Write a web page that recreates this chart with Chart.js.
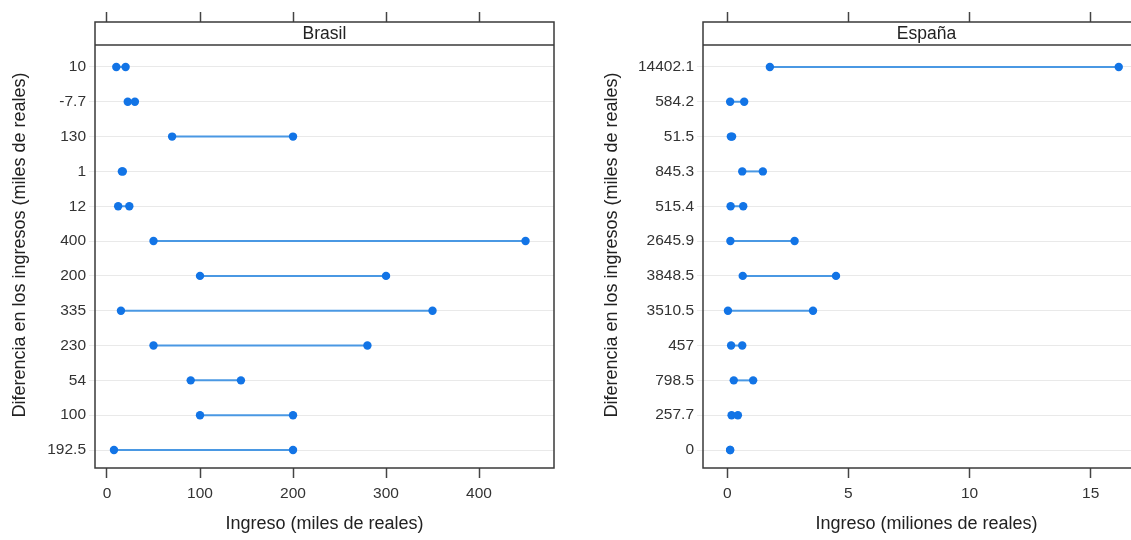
<!DOCTYPE html>
<html>
<head>
<meta charset="utf-8">
<script src="https://cdn.jsdelivr.net/npm/chart.js@4.4.1/dist/chart.umd.min.js"></script>
<style>
	html, body { margin: 0; padding: 0; background: #fff; overflow: hidden; width: 1131px; height: 540px; }
	canvas { position: absolute; top: 0; }
</style>
</head>
<body>
<canvas id="brasil" width="565" height="540" style="left:0"></canvas>
<canvas id="espana" width="575" height="540" style="left:592px"></canvas>
<script>
// Brasil: ingreso en miles de reales
const brasilLabels = ["10", "-7.7", "130", "1", "12", "400", "200", "335", "230", "54", "100", "192.5"];
const brasilLow = [10, 22.3, 70, 16, 12, 50, 100, 15, 50, 90, 100, 7.5];
const brasilHigh = [20, 30, 200, 17, 24, 450, 300, 350, 280, 144, 200, 200];
const brasilTicks = [0, 100, 200, 300, 400];

// España: ingreso en millones de reales
const espanaLabels = ["14402.1", "584.2", "51.5", "845.3", "515.4", "2645.9", "3848.5", "3510.5", "457", "798.5", "257.7", "0"];
const espanaLow = [1.76, 0.12, 0.15, 0.62, 0.14, 0.13, 0.64, 0.03, 0.16, 0.27, 0.18, 0.12];
const espanaHigh = [16.16, 0.70, 0.20, 1.47, 0.66, 2.78, 4.49, 3.54, 0.62, 1.07, 0.44, 0.12];
const espanaTicks = [0, 5, 10, 15];

const FONT = '"Liberation Sans", Arial, sans-serif';
const STRIP_H = 23;

Chart.defaults.font.family = FONT;
Chart.defaults.color = "#333";

// panel frame plus the strip with the country name
const stripPlugin = {
	id: "strip",
	afterDraw(chart, args, opts) {
		const { ctx, chartArea: a } = chart;
		ctx.save();
		ctx.fillStyle = "#fff";
		ctx.fillRect(a.left, a.top, a.right - a.left, STRIP_H);
		ctx.strokeStyle = "#3a3a3a";
		ctx.lineWidth = 1.5;
		ctx.beginPath();
		ctx.moveTo(a.left, a.top + STRIP_H);
		ctx.lineTo(a.right, a.top + STRIP_H);
		ctx.stroke();
		ctx.strokeRect(a.left, a.top, a.right - a.left, a.bottom - a.top);
		ctx.fillStyle = "#222";
		ctx.font = "17.5px " + FONT;
		ctx.textAlign = "center";
		ctx.textBaseline = "middle";
		ctx.fillText(opts.text, (a.left + a.right) / 2, a.top + STRIP_H / 2 + 1);
		ctx.restore();
	},
};

function makePanel(id, name, labels, low, high, xMin, xMax, xTicks, xTitle, yWidth, padRight) {
	const datasets = labels.map((lab, i) => ({
		label: lab,
		data: [
			{ x: low[i], y: i },
			{ x: high[i], y: i },
		],
		showLine: true,
		borderColor: "#4a98e3",
		borderWidth: 2,
		pointRadius: 4.2,
		pointHoverRadius: 4.2,
		pointBorderWidth: 0,
		pointBackgroundColor: "#1274e6",
	}));

	const xCommon = {
		type: "linear",
		min: xMin,
		max: xMax,
		afterBuildTicks: (s) => {
			s.ticks = xTicks.map((v) => ({ value: v }));
		},
		border: { display: false },
		grid: {
			drawOnChartArea: false,
			drawTicks: true,
			tickLength: 10,
			tickColor: "#444",
			tickWidth: 1.5,
		},
	};

	return new Chart(document.getElementById(id), {
		type: "scatter",
		data: { datasets: datasets },
		plugins: [stripPlugin],
		options: {
			responsive: false,
			animation: false,
			layout: { padding: { top: 12, right: padRight, bottom: 0, left: 0 } },
			scales: {
				x: {
					...xCommon,
					position: "bottom",
					afterFit: (s) => {
						s.height = 72;
					},
					ticks: { font: { size: 15.5 }, color: "#333", padding: 6 },
					title: {
						display: true,
						text: xTitle,
						font: { size: 18 },
						color: "#222",
						padding: { top: 4, bottom: 5 },
					},
				},
				x2: {
					...xCommon,
					position: "top",
					afterFit: (s) => {
						s.height = 10;
					},
					ticks: { display: false },
				},
				y: {
					type: "linear",
					reverse: true,
					min: -1.29,
					max: 11.516,
					afterBuildTicks: (s) => {
						s.ticks = labels.map((_, i) => ({ value: i }));
					},
					afterFit: (s) => {
						s.width = yWidth;
					},
					border: { display: false },
					grid: {
						color: "#e9e9e9",
						lineWidth: 1,
						drawTicks: true,
						tickLength: 6,
						tickColor: "#ececec",
					},
					ticks: {
						autoSkip: false,
						font: { size: 15.5 },
						color: "#333",
						padding: 3,
						callback: (v) => labels[v],
					},
					title: {
						display: true,
						text: "Diferencia en los ingresos (miles de reales)",
						font: { size: 18 },
						color: "#222",
						padding: { top: 9, bottom: 0 },
					},
				},
			},
			plugins: {
				legend: { display: false },
				tooltip: { enabled: false },
				strip: { text: name },
			},
		},
	});
}

makePanel("brasil", "Brasil", brasilLabels, brasilLow, brasilHigh,
	-12.9, 480.6, brasilTicks, "Ingreso (miles de reales)", 95, 11);
makePanel("espana", "España", espanaLabels, espanaLow, espanaHigh,
	-1.0, 17.45, espanaTicks, "Ingreso (miliones de reales)", 111, 17);
</script>
</body>
</html>
